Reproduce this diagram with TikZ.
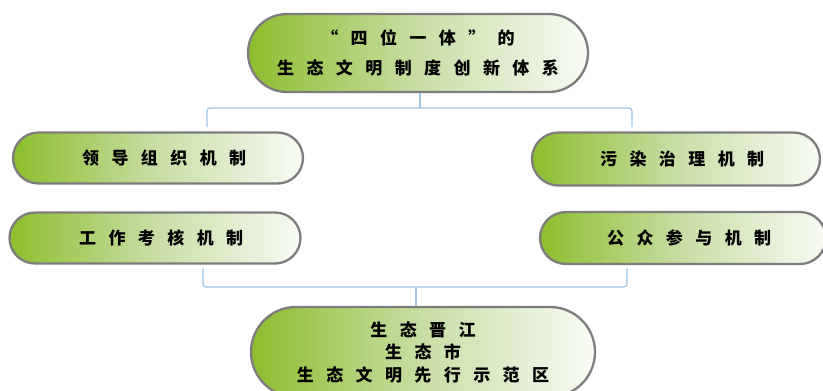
\documentclass[tikz,border=0pt]{standalone}
\usepackage{fontspec}
\newfontfamily\cjk[LetterSpace=73]{Noto Sans CJK SC}
\usetikzlibrary{shapes.misc}
\definecolor{leafgreen}{RGB}{140,190,45}
\definecolor{midgreen}{RGB}{200,222,165}
\definecolor{paleend}{RGB}{248,251,244}
\definecolor{rimgray}{RGB}{125,125,125}
\definecolor{linkblue}{RGB}{160,195,230}
\tikzset{
  pill/.style={rounded rectangle, draw=rimgray, line width=2.3pt,
    left color=leafgreen, right color=paleend, middle color=midgreen,
    shading angle=90, align=center, inner sep=0pt,
    font=\cjk\bfseries\fontsize{17}{22.5}\selectfont, text=black},
  link/.style={draw=linkblue, line width=1.2pt, rounded corners=3pt}
}
\newcommand{\ls}{\hspace{-12.4pt}}
\begin{document}
\begin{tikzpicture}[x=1pt,y=-1pt]
\useasboundingbox (0,0) rectangle (823,391);
\node[pill, minimum width=340pt, minimum height=78pt] (top) at (418,53)
  {“四位一体”的\ls\\[7pt]生态文明制度创新体系\ls};
\node[pill, minimum width=290pt, minimum height=51pt] (l1) at (158,158) {领导组织机制\ls};
\node[pill, minimum width=291pt, minimum height=51pt] (l2) at (155,238) {工作考核机制\ls};
\node[pill, minimum width=288pt, minimum height=53pt] (r1) at (676,159) {污染治理机制\ls};
\node[pill, minimum width=286pt, minimum height=52pt] (r2) at (683,238) {公众参与机制\ls};
\node[pill, minimum width=344pt, minimum height=90pt] (bot) at (423,352)
  {生态晋江\ls\\生态市\ls\\生态文明先行示范区\ls};
% top bracket
\coordinate (tl) at (207,127);
\coordinate (tr) at (632,127);
\coordinate (th) at (420,108);
\draw[link] (top.south -| th) -- (th);
\draw[link] (tl) |- (th) -| (tr);
% bottom bracket
\coordinate (bl) at (203,268);
\coordinate (br) at (627,268);
\coordinate (bh) at (416,287);
\draw[link] (bl) |- (bh) -| (br);
\draw[link] (bh) -- (bot.north -| bh);
\end{tikzpicture}
\end{document}
